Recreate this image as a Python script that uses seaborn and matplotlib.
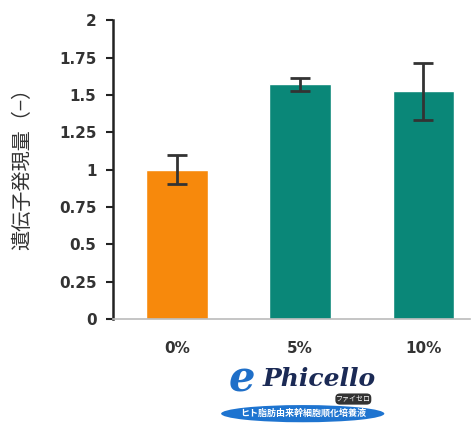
import matplotlib
matplotlib.use("Agg")
import matplotlib.pyplot as plt
from matplotlib.patches import FancyBboxPatch, Ellipse
import pandas as pd
import seaborn as sns

# data
groups = ["0%", "5%", "10%"]
expression = [1.00, 1.57, 1.525]
errors = [0.095, 0.045, 0.19]
bar_colors = ["#F7890C", "#0A8778"]

sns.set_theme(style="white")
plt.rcParams["font.family"] = ["Noto Sans CJK JP", "DejaVu Sans"]

df = pd.DataFrame({"group": groups, "value": expression})

fig = plt.figure(figsize=(4.73, 4.30), dpi=100)
ax = fig.add_axes([0.239, 0.258, 0.755, 0.695])

palette = [bar_colors[0], bar_colors[1], bar_colors[1]]
sns.barplot(data=df, x="group", y="value", hue="group", palette=palette,
            width=0.5, legend=False, ax=ax, saturation=1)
ax.errorbar(range(len(groups)), expression, yerr=errors, fmt="none",
            ecolor="#333333", elinewidth=2, capsize=7, capthick=2, zorder=5)

ax.set_xlim(-0.52, 2.38)
ax.set_ylim(0, 2)
ax.set_yticks([0, 0.25, 0.5, 0.75, 1, 1.25, 1.5, 1.75, 2])
ax.set_yticklabels(["0", "0.25", "0.5", "0.75", "1", "1.25", "1.5", "1.75", "2"])
ax.tick_params(axis="y", left=True, length=5, width=1.5, color="#222222",
               labelsize=11, labelcolor="#333333", pad=7)
ax.tick_params(axis="x", bottom=False, labelsize=11, labelcolor="#333333", pad=10)
for lab in ax.get_xticklabels() + ax.get_yticklabels():
    lab.set_fontweight("bold")
    lab.set_family("DejaVu Sans")
ax.set_xlabel("")
ax.set_ylabel("遺伝子発現量（−）", fontsize=14.5, color="#333333")
ax.yaxis.set_label_coords(-0.225, 0.52)

for s in ["top", "right"]:
    ax.spines[s].set_visible(False)
ax.spines["left"].set_color("#222222")
ax.spines["left"].set_linewidth(1.8)
ax.spines["bottom"].set_color("#BBBBBB")
ax.spines["bottom"].set_linewidth(1.2)

# Phicello logo under the chart
fig.text(0.512, 0.118, "e", fontsize=30, color="#1F6FC8", fontweight="bold",
         style="italic", ha="center", va="center", family="DejaVu Serif")
fig.text(0.675, 0.118, "Phicello", fontsize=18, color="#1B2A55", fontweight="bold",
         style="italic", ha="center", va="center", family="DejaVu Serif")
fig.patches.append(FancyBboxPatch((0.712, 0.062), 0.070, 0.020,
                                  boxstyle="round,pad=0.003,rounding_size=0.01",
                                  transform=fig.transFigure, fc="#333333", ec="none"))
fig.text(0.747, 0.072, "ファイセロ", fontsize=5, color="white", ha="center", va="center")
fig.patches.append(Ellipse((0.640, 0.038), 0.345, 0.040, transform=fig.transFigure,
                           fc="#1E74D0", ec="none"))
fig.text(0.640, 0.038, "ヒト脂肪由来幹細胞順化培養液", fontsize=6.5, color="white",
         ha="center", va="center", fontweight="bold")

fig.savefig("out.png", dpi=100, facecolor="white")
